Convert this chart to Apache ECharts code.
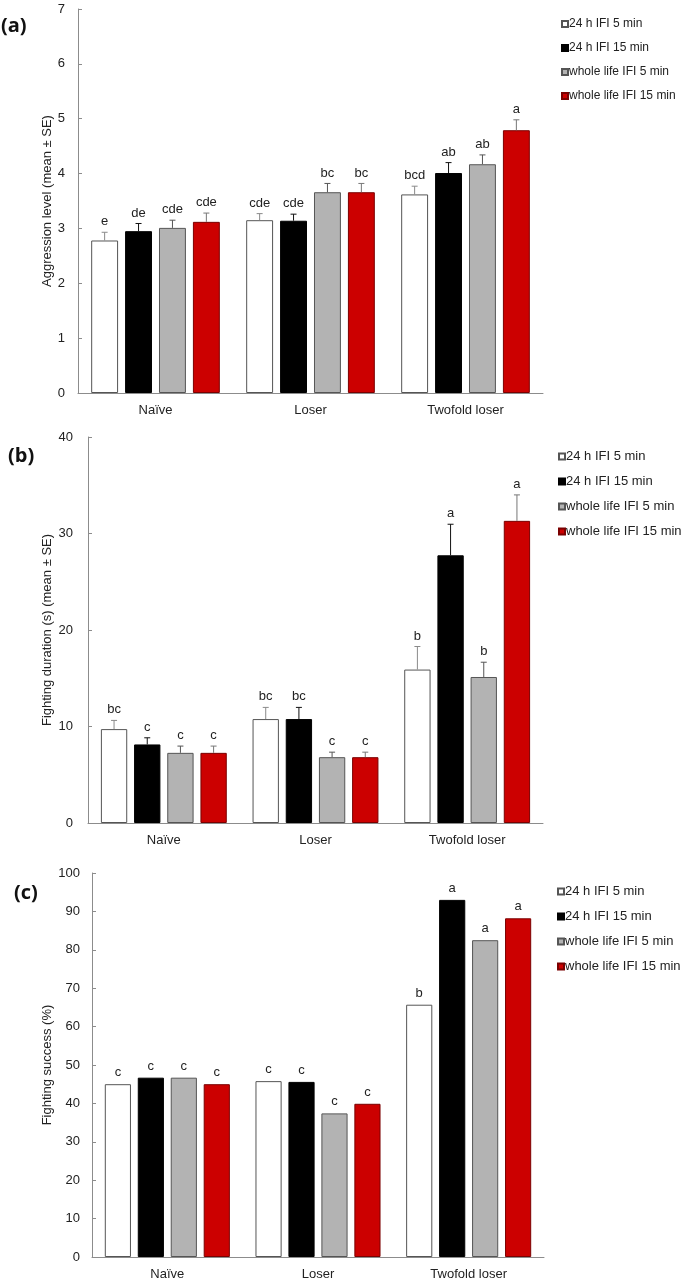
<!DOCTYPE html>
<html>
<head>
<meta charset="utf-8">
<script src="https://cdn.jsdelivr.net/npm/echarts@6/dist/echarts.min.js"></script>
<style>
html,body{margin:0;padding:0;background:#fff;}
#chart{width:685px;height:1281px;}
</style>
</head>
<body>
<div id="chart"></div>
<script>
const categories = ['Naïve', 'Loser', 'Twofold loser'];
const seriesNames = ['24 h IFI 5 min', '24 h IFI 15 min', 'whole life IFI 5 min', 'whole life IFI 15 min'];

// Panel (a): Aggression level
const aggrMean = [[2.78, 3.15, 3.62], [2.95, 3.14, 4.01], [3.01, 3.66, 4.17], [3.12, 3.66, 4.79]];
const aggrSE = [[0.15, 0.12, 0.15], [0.14, 0.12, 0.19], [0.14, 0.16, 0.17], [0.16, 0.16, 0.19]];
const aggrLetters = [['e', 'cde', 'bcd'], ['de', 'cde', 'ab'], ['cde', 'bc', 'ab'], ['cde', 'bc', 'a']];
const aggrTicks = [0, 1, 2, 3, 4, 5, 6, 7];

// Panel (b): Fighting duration
const durMean = [[9.73, 10.77, 15.9], [8.14, 10.77, 27.74], [7.27, 6.82, 15.13], [7.27, 6.82, 31.31]];
const durSE = [[0.9, 1.21, 2.39], [0.69, 1.21, 3.22], [0.7, 0.52, 1.53], [0.7, 0.52, 2.69]];
const durLetters = [['bc', 'bc', 'b'], ['c', 'bc', 'a'], ['c', 'c', 'b'], ['c', 'c', 'a']];
const durTicks = [0, 10, 20, 30, 40];

// Panel (c): Fighting success
const succMean = [[45.0, 45.8, 65.7], [46.7, 45.6, 93.0], [46.7, 37.4, 82.5], [45.0, 39.9, 88.2]];
const succLetters = [['c', 'c', 'b'], ['c', 'c', 'a'], ['c', 'c', 'a'], ['c', 'c', 'a']];
const succTicks = [0, 10, 20, 30, 40, 50, 60, 70, 80, 90, 100];

const panelLabels = ['(a)', '(b)', '(c)'];
const yNames = ['Aggression level (mean ± SE)', 'Fighting duration (s) (mean ± SE)', 'Fighting success (%)'];

const FONT = 'Liberation Sans, Arial, sans-serif';
const fills = ['#ffffff', '#000000', '#b3b3b3', '#cc0000'];
const borders = ['#555555', '#000000', '#555555', '#7a0000'];
const errColors = ['#8a8a8a', '#111111', '#555555', '#777777'];
const CAT_GAP = 0.17, BAR_GAP = 0.26;

const grids = [
  {left: 78, top: 9, width: 465, height: 384},
  {left: 88, top: 437, width: 455, height: 386},
  {left: 92, top: 873, width: 452, height: 384}
];
const legendTops = [18, 450, 885];
const legendLefts = [561, 558, 557];
const legendFont = [12, 13, 13];
const titlePos = [{left: 1, top: 16}, {left: 8, top: 446}, {left: 14, top: 883}];
const nameGaps = [24, 34, 38];
const labelMargins = [13, 15, 12];

const ticksList = [aggrTicks, durTicks, succTicks];
const means = [aggrMean, durMean, succMean];
const ses = [aggrSE, durSE, null];
const letters = [aggrLetters, durLetters, succLetters];

function barOffset(bandWidth, s) {
  const groupW = bandWidth * (1 - CAT_GAP);
  const n = seriesNames.length;
  const w = groupW / (n + (n - 1) * BAR_GAP);
  return -groupW / 2 + s * w * (1 + BAR_GAP) + w / 2;
}

const option = {
  animation: false,
  backgroundColor: '#fff',
  title: panelLabels.map((t, i) => ({
    text: t, left: titlePos[i].left, top: titlePos[i].top, padding: 0,
    textStyle: {fontSize: 20, fontWeight: 'bold', color: '#111', fontFamily: 'Open Sans, Liberation Sans, sans-serif'}
  })),
  legend: grids.map((g, i) => ({
    orient: 'vertical', left: legendLefts[i], top: legendTops[i],
    itemWidth: 6, itemHeight: 6, itemGap: 12, padding: 0,
    icon: 'rect',
    data: seriesNames,
    textStyle: {fontSize: legendFont[i], color: '#222', fontFamily: FONT, padding: [0, 0, 0, -4]},
    selectedMode: false
  })),
  grid: grids,
  xAxis: grids.map((g, i) => ({
    type: 'category', gridIndex: i, data: categories,
    axisLine: {lineStyle: {color: '#8c8c8c', width: 1}},
    axisTick: {show: false},
    axisLabel: {fontSize: 13, color: '#222', fontFamily: FONT, margin: 11}
  })),
  yAxis: grids.map((g, i) => {
    const t = ticksList[i];
    return {
      type: 'value', gridIndex: i, min: t[0], max: t[t.length - 1], interval: t[1] - t[0],
      name: yNames[i], nameLocation: 'middle', nameGap: nameGaps[i], nameMoveOverlap: false,
      nameTextStyle: {fontSize: 13, color: '#222', fontFamily: FONT},
      axisLine: {show: true, lineStyle: {color: '#8c8c8c', width: 1}},
      axisTick: {show: true, inside: true, length: 4, lineStyle: {color: '#8c8c8c'}},
      splitLine: {show: false},
      axisLabel: {fontSize: 13, color: '#222', fontFamily: FONT, margin: labelMargins[i]}
    };
  }),
  series: []
};

for (let p = 0; p < 3; p++) {
  for (let s = 0; s < seriesNames.length; s++) {
    const bar = {
      type: 'bar', name: seriesNames[s], xAxisIndex: p, yAxisIndex: p,
      data: means[p][s],
      barCategoryGap: (CAT_GAP * 100) + '%', barGap: (BAR_GAP * 100) + '%',
      itemStyle: {color: fills[s], borderColor: borders[s], borderWidth: 1},
      emphasis: {disabled: true}
    };
    if (!ses[p]) {
      bar.label = {
        show: true, position: 'top', distance: 5,
        formatter: (prm) => letters[p][s][prm.dataIndex],
        fontSize: 13, color: '#222', fontFamily: FONT
      };
    }
    option.series.push(bar);
  }
  if (ses[p]) {
    for (let s = 0; s < seriesNames.length; s++) {
      const data = categories.map((c, k) => [k, means[p][s][k], ses[p][s][k]]);
      option.series.push({
        type: 'custom', xAxisIndex: p, yAxisIndex: p, z: 5, silent: true,
        data: data,
        renderItem: (params, api) => {
          const k = api.value(0);
          const m = api.value(1);
          const se = api.value(2);
          const bw = api.size([1, 0])[0];
          const off = barOffset(bw, s);
          const base = api.coord([k, m]);
          const top = api.coord([k, m + se]);
          const x = base[0] + off;
          const lt = letters[p][s][k];
          return {
            type: 'group',
            children: [
              {type: 'line', shape: {x1: x, y1: base[1], x2: x, y2: top[1]}, style: {stroke: errColors[s], lineWidth: 1}},
              {type: 'line', shape: {x1: x - 3, y1: top[1], x2: x + 3, y2: top[1]}, style: {stroke: errColors[s], lineWidth: 1}},
              {type: 'text', x: x, y: top[1] - 4, style: {text: lt, fill: '#222', font: '13px ' + FONT, textAlign: 'center', textVerticalAlign: 'bottom'}}
            ]
          };
        }
      });
    }
  }
}

const chart = echarts.init(document.getElementById('chart'), null, {renderer: 'canvas'});
chart.setOption(option);
</script>
</body>
</html>
